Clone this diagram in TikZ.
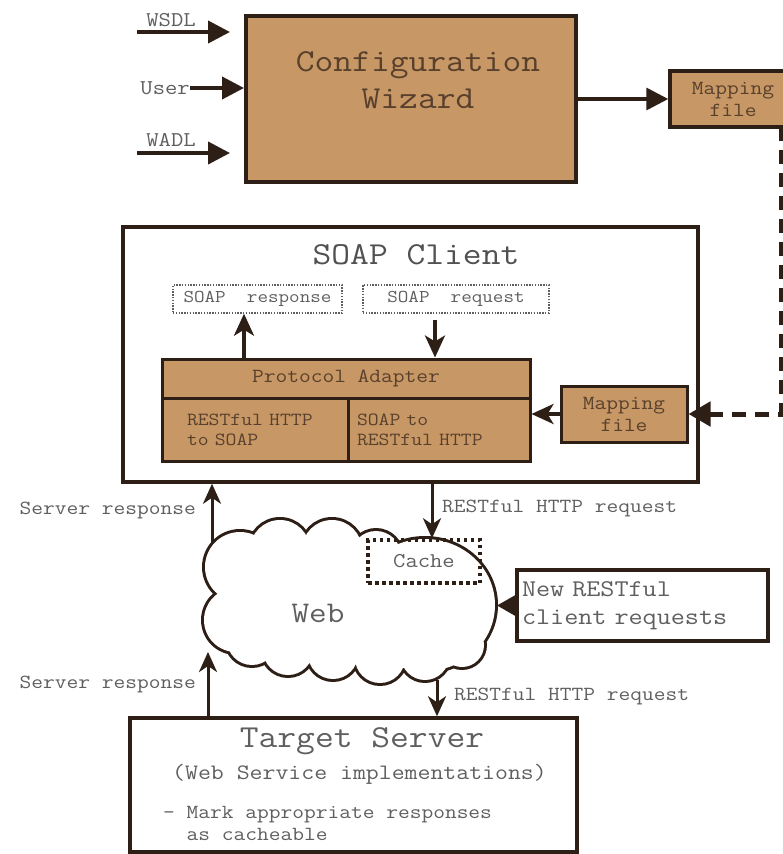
\documentclass[tikz,border=0pt]{standalone}
\usepackage{fontspec}
\newfontfamily\cour[FakeStretch=1.14]{Latin Modern Mono}
\usetikzlibrary{arrows.meta}
\definecolor{tanfill}{RGB}{199,151,101}
\definecolor{ink}{RGB}{45,30,22}
\definecolor{labelgrey}{RGB}{95,95,95}
\definecolor{tantext}{RGB}{88,64,44}
\newcommand{\fsz}[2]{\fontsize{#1pt}{#2pt}\selectfont}
% outline of the web cloud: a union of puffs
\newcommand{\cloudpuffs}{%
  (240,567) circle[radius=35]
  (236,620) circle[radius=32]
  (280,550) circle[radius=30]
  (332,550) circle[radius=30]
  (376,556) circle[radius=25]
  (425,605) ellipse[x radius=70,y radius=66]
  (462,645) circle[radius=22]
  (425,656) circle[radius=24]
  (380,658) circle[radius=25]
  (333,654) circle[radius=25]
  (288,650) circle[radius=25]
  (252,640) circle[radius=25]
  (340,600) ellipse[x radius=110,y radius=55]}

\begin{document}
\begin{tikzpicture}[x=1pt,y=-1pt,font=\cour,
  tanbox/.style={draw=ink,fill=tanfill,line width=3.5pt,inner sep=0pt,text=tantext,align=center},
  whitebox/.style={draw=ink,fill=white,line width=3.5pt,inner sep=0pt},
  msgbox/.style={draw=labelgrey,line width=1.4pt,dash pattern=on 1.4pt off 1.4pt,inner sep=0pt,text=labelgrey},
  lbl/.style={text=labelgrey,inner sep=0pt},
  feed/.style={ink,line width=4pt,-{Triangle[length=22pt,width=22pt]}},
  flow/.style={ink,line width=3.5pt,-{Stealth[length=22pt,width=20pt,inset=6pt]}},
  net/.style={ink,line width=3pt,-{Stealth[length=20pt,width=18pt,inset=6pt]}},
]
\useasboundingbox (0,0) rectangle (783,854);
\fill[white] (0,0) rectangle (783,854);

% configuration stage
\node[tanbox,line width=4pt,minimum width=330pt,minimum height=166pt] (cw) at (411,99) {};
\node[text=tantext,align=center,inner sep=0pt,font=\cour\fsz{32}{37}] (cwtext) at (418,80) {Configuration\\Wizard};
\node[tanbox,minimum width=126pt,minimum height=56pt,font=\cour\fsz{20}{22}] (mapt) at (733,99) {Mapping\\file};

\node[lbl,font=\cour\fsz{21}{23}] (wsdl) at (171,20) {WSDL};
\node[lbl,anchor=east,font=\cour\fsz{21}{23}] (user) at (190,88) {User};
\node[lbl,font=\cour\fsz{21}{23}] (wadl) at (171,140) {WADL};

% SOAP client
\node[whitebox,minimum width=575pt,minimum height=255pt] (soap) at (410.5,354.5) {};
\node[lbl,text=labelgrey!85!black,font=\cour\fsz{32}{36}] (soaptitle) at (416,255) {SOAP Client};
\node[msgbox,minimum width=169pt,minimum height=28pt,font=\cour\fsz{18}{20}] (resp) at (257.5,299) {SOAP~~response};
\node[msgbox,minimum width=186pt,minimum height=28pt,font=\cour\fsz{18}{20}] (req) at (456,299) {SOAP~~request};

\node[tanbox,line width=3pt,minimum width=368pt,minimum height=39pt,font=\cour\fsz{20}{22}] (pahead) at (346,378.5) {Protocol Adapter};
\node[tanbox,line width=3pt,minimum height=63pt,text width=136pt,inner xsep=25pt,align=left,font=\cour\fsz{18.5}{20}] (pal) at (255,429.5) {RESTful HTTP\\to SOAP};
\node[tanbox,line width=3pt,minimum height=63pt,text width=164pt,inner xsep=9pt,align=left,font=\cour\fsz{18.5}{20}] (par) at (439,429.5) {SOAP to\\RESTful HTTP};
\node[tanbox,line width=3pt,minimum width=126pt,minimum height=56pt,font=\cour\fsz{20}{22}] (mapi) at (624,414) {Mapping\\file};

% the web: stroke every puff twice as wide, then fill them all white
\draw[ink,line width=6pt] \cloudpuffs;
\fill[white] \cloudpuffs;
\coordinate (web) at (350,601);
\coordinate (webedge) at (497,605);
\node[lbl,font=\cour\fsz{30}{32}] (webtext) at (318,613) {Web};
\node[draw=ink,line width=3.5pt,dash pattern=on 3.5pt off 3.5pt,minimum width=112pt,minimum height=43pt,inner sep=0pt,text=labelgrey,font=\cour\fsz{21}{23}] (cache) at (424,561.5) {Cache};
\node[draw=ink,line width=4.5pt,fill=white,minimum height=71pt,text width=241pt,inner xsep=5pt,align=left,text=labelgrey,font=\cour\fsz{24}{28}] (newreq) at (642.5,605.5) {New RESTful\\client requests};

% target server
\node[whitebox,minimum width=447pt,minimum height=134pt] (target) at (353.5,785) {};
\node[lbl,font=\cour\fsz{32}{36}] (tstitle) at (362,741) {Target Server};
\node[lbl,anchor=west,font=\cour\fsz{22}{24}] (tssub) at (172,774) {(Web Service implementations)};
\node[lbl,anchor=west,align=left,font=\cour\fsz{20}{22}] (tsnote) at (163,823) {-~Mark appropriate responses\\\phantom{-~}as cacheable};

% side labels
\node[lbl,anchor=east,font=\cour\fsz{20}{22}] (sru) at (196,510) {Server response};
\node[lbl,anchor=west,font=\cour\fsz{20}{22}] (rqu) at (442,508) {RESTful HTTP request};
\node[lbl,anchor=east,font=\cour\fsz{20}{22}] (srl) at (196,684) {Server response};
\node[lbl,anchor=west,font=\cour\fsz{20}{22}] (rql) at (454,696) {RESTful HTTP request};

% inputs of the wizard
\coordinate (wsdlin) at (137,32);
\coordinate (wsdlout) at (230,32);
\coordinate (wadlin) at (137,153);
\coordinate (wadlout) at (230,153);
\draw[feed] (wsdlin) -- (wsdlout);
\draw[feed] (user.east) -- (user.east -| cw.west);
\draw[feed] (wadlin) -- (wadlout);
\draw[feed,line width=3.5pt] (cw.east) -- (mapt.west);

% mapping file delivered to the client
\coordinate (dtop) at (781,127);
\draw[ink,line width=5pt,dash pattern=on 14pt off 9pt,-{Triangle[length=22pt,width=24pt]}] (dtop) |- (mapi.east);
\draw[flow] (mapi.west) -- (mapi.west -| par.east);

% adapter traffic
\coordinate (xr) at (244,0);
\coordinate (xq) at (435,0);
\draw[flow] (pahead.north -| xr) -- (resp.south -| xr);
\draw[flow,shorten <=6pt] (req.south -| xq) -- (pahead.north -| xq);

% network traffic
\coordinate (xc) at (432,0);
\coordinate (sr1) at (212,543);
\coordinate (sr2) at (208,652);
\coordinate (rq2) at (437,680);
\draw[net] (soap.south -| xc) -- (cache.north -| xc);
\draw[net] (sr1) -- (sr1 |- soap.south);
\draw[net] (sr2 |- target.north) -- (sr2);
\draw[net] (rq2) -- (rq2 |- target.north);
\draw[ink,line width=3pt,-{Triangle[length=20pt,width=22pt]}] (newreq.west) -- (newreq.west -| webedge);
\end{tikzpicture}
\end{document}
